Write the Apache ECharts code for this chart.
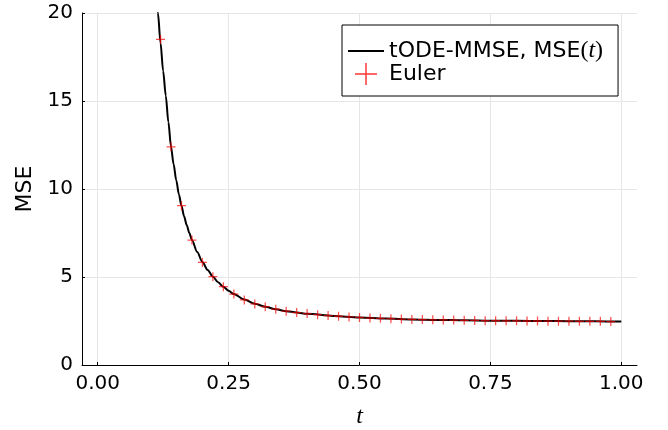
<!DOCTYPE html>
<html>
<head>
<meta charset="utf-8">
<script src="https://cdn.jsdelivr.net/npm/echarts@6/dist/echarts.min.js"></script>
<style>html,body{margin:0;padding:0;background:#fff;}#c{width:668px;height:430px;}</style>
</head>
<body>
<div id="c"></div>
<script>
// ---- data ----
var lineT = [0.11,0.115,0.12,0.125,0.13,0.135,0.14,0.145,0.15,0.155,0.16,0.165,0.17,0.175,0.18,0.19,0.20,0.21,0.22,0.23,0.24,0.25,0.26,0.28,0.30,0.32,0.34,0.36,0.38,0.40,0.45,0.50,0.55,0.60,0.65,0.70,0.75,0.80,0.85,0.90,0.95,1.00];
var lineMSE = [21.9,20.0,18.3,16.7,15.3,13.8,12.4,11.4,10.5,9.7,9.05,8.45,7.95,7.5,7.1,6.42,5.85,5.4,5.02,4.7,4.44,4.22,4.03,3.72,3.48,3.31,3.17,3.06,2.98,2.91,2.79,2.70,2.64,2.59,2.56,2.54,2.52,2.51,2.50,2.49,2.48,2.47];
var eulerT = [0.12,0.14,0.16,0.18,0.20,0.22,0.24,0.26,0.28,0.30,0.32,0.34,0.36,0.38,0.40,0.42,0.44,0.46,0.48,0.50,0.52,0.54,0.56,0.58,0.60,0.62,0.64,0.66,0.68,0.70,0.72,0.74,0.76,0.78,0.80,0.82,0.84,0.86,0.88,0.90,0.92,0.94,0.96,0.98];
var eulerMSE = [18.5,12.4,9.05,7.1,5.83,5.02,4.45,4.03,3.70,3.47,3.31,3.17,3.06,2.98,2.92,2.86,2.81,2.77,2.73,2.70,2.67,2.65,2.63,2.61,2.59,2.58,2.57,2.56,2.55,2.54,2.53,2.52,2.52,2.51,2.51,2.50,2.50,2.49,2.49,2.49,2.48,2.48,2.48,2.47];
var xTicks = [0, 0.25, 0.5, 0.75, 1.0];
var xTickLabels = ['0.00','0.25','0.50','0.75','1.00'];
var lineName = 'tODE-MMSE, MSE(t)';
var eulerName = 'Euler';

var lineData = lineT.map(function(t,i){return [t, lineMSE[i]];});
var eulerData = eulerT.map(function(t,i){return [t, eulerMSE[i]];});

var chart = echarts.init(document.getElementById('c'), null, {renderer:'canvas'});
var tickFont = 'DejaVu Sans';
chart.setOption({
  animation: false,
  backgroundColor: '#fff',
  grid: {left: 82, right: 31, top: 13, bottom: 65, containLabel: false, outerBoundsMode: 'none'},
  xAxis: {
    type: 'value', min: -0.03, max: 1.03,
    name: 't', nameLocation: 'middle', nameGap: 40,
    nameTextStyle: {fontFamily: 'Liberation Serif', fontStyle: 'italic', fontSize: 24, color: '#000'},
    axisLine: {show: true, onZero: false, lineStyle: {color: '#000', width: 1}},
    axisTick: {show: true, inside: true, length: 3, lineStyle: {color: '#000'}, customValues: xTicks},
    axisLabel: {customValues: xTicks, fontFamily: tickFont, fontSize: 20, color: '#000', margin: 9,
      formatter: function(v){ var i = xTicks.indexOf(v); return i >= 0 ? xTickLabels[i] : ''; }},
    splitLine: {show: true, lineStyle: {color: '#e6e6e6', width: 1}}
  },
  yAxis: {
    type: 'value', min: 0, max: 20, interval: 5,
    name: 'MSE', nameLocation: 'middle', nameGap: 46, nameRotate: 90,
    nameTextStyle: {fontFamily: tickFont, fontSize: 22, color: '#000'},
    axisLine: {show: true, onZero: false, lineStyle: {color: '#000', width: 1}},
    axisTick: {show: true, inside: true, length: 3, lineStyle: {color: '#000'}},
    axisLabel: {fontFamily: tickFont, fontSize: 20, color: '#000', margin: 9},
    splitLine: {show: true, lineStyle: {color: '#e6e6e6', width: 1}}
  },
  legend: {
    orient: 'vertical', left: 342, top: 25,
    padding: [14, 15, 11, 6],
    itemWidth: 36, itemHeight: 22, itemGap: 0, itemTextGap: 7,
    borderColor: '#000', borderWidth: 1, backgroundColor: '#fff', borderRadius: 0,
    selectedMode: false,
    data: [
      {name: lineName, icon: 'path://M0,0H36V2H0Z', itemStyle: {color: '#000'}},
      {name: eulerName, icon: 'path://M0,11.2H24V12.8H0Z M11.2,0H12.8V24H11.2Z', itemStyle: {color: '#ff0000'}}
    ],
    formatter: function(name){
      if (name === lineName) return '{a|tODE-MMSE, MSE}{b|(}{c|t}{b|)}';
      return '{a|' + name + '}';
    },
    textStyle: {
      color: '#000', fontFamily: tickFont, fontSize: 22,
      rich: {
        a: {fontFamily: tickFont, fontSize: 22, color: '#000'},
        b: {fontFamily: 'Liberation Serif', fontSize: 24, color: '#000'},
        c: {fontFamily: 'Liberation Serif', fontStyle: 'italic', fontSize: 24, color: '#000'}
      }
    }
  },
  series: [
    {
      name: lineName, type: 'line', data: lineData, showSymbol: false, symbol: 'none',
      smooth: 0.3, smoothMonotone: 'x', clip: true,
      lineStyle: {color: '#000', width: 2}, itemStyle: {color: '#000'}, z: 2
    },
    {
      name: eulerName, type: 'scatter', data: eulerData,
      symbol: 'path://M0,4.3H10V5.7H0Z M4.3,0H5.7V10H4.3Z', symbolSize: 9,
      itemStyle: {color: 'rgba(255,0,0,0.85)'}, z: 3
    }
  ]
});
</script>
</body>
</html>
